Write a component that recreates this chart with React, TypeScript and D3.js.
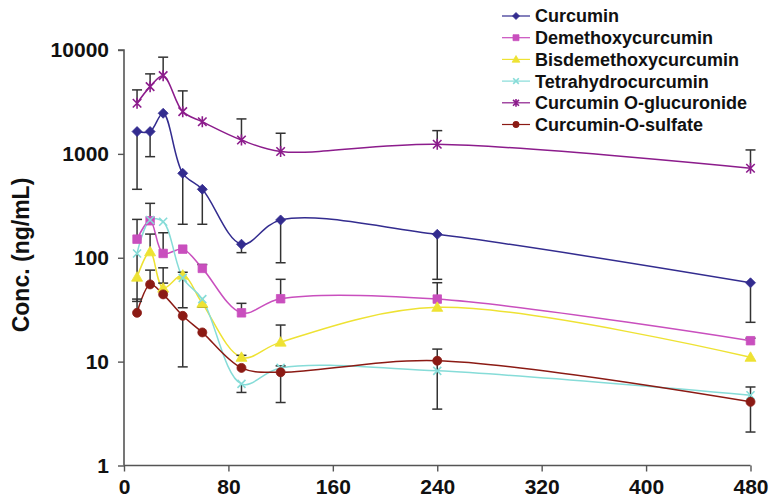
import React, {useEffect, useRef} from 'react';
import * as d3 from 'd3';

// sampling times (min)
const times = [10, 20, 30, 45, 60, 90, 120, 240, 480];

const seriesNames = [
    'Curcumin',
    'Demethoxycurcumin',
    'Bisdemethoxycurcumin',
    'Tetrahydrocurcumin',
    'Curcumin O-glucuronide',
    'Curcumin-O-sulfate',
];
const seriesColors = ['#332c8f', '#c94fbe', '#eee233', '#86dcd8', '#8c1c8c', '#8b1a14'];
const seriesMarkers = ['diamond', 'square', 'triangle', 'x', 'star', 'circle'];

// mean concentrations (ng/mL)
const curcumin = [1640, 1640, 2460, 650, 456, 135, 231, 168, 57.4];
const demethoxy = [151, 227, 110, 121, 79, 29.5, 40.3, 40, 15.9];
const bisdemethoxy = [65, 114, 51, 68, 36.4, 11, 15.4, 33.3, 11];
const tetrahydro = [110, 231, 222, 64, 40, 6.1, 8.7, 8.15, 4.75];
const glucuronide = [3070, 4440, 5660, 2550, 2040, 1360, 1055, 1237, 727];
const sulfate = [29.5, 55.4, 44.4, 27.6, 19.1, 8.7, 7.9, 10.2, 4.1];

// error bar ends (null = no bar drawn on that side)
const curcuminLow = [456, 940, null, 210, 210, 112, 89.5, 62, 23.9];
const demethoxyHigh = [234, 334, 174, null, 86, 36.4, 62, 57.5, 16.8];
const bisdemethoxyHigh = [null, 169, 80, 72.5, null, 11.5, 22.5, null, null];
const bisdemethoxyLow = [null, null, null, null, 33.4, null, null, null, null];
const tetrahydroHigh = [null, null, null, null, null, null, 9.1, null, null];
const tetrahydroLow = [38, null, null, 33, null, 5.05, null, null, null];
const glucuronideHigh = [4130, 5890, 8530, 4040, null, 2170, 1580, 1674, 1091];
const sulfateHigh = [40, 76, 57, null, null, null, null, 13.2, 5.7];
const sulfateLow = [null, null, null, 8.9, null, null, 4.04, 3.49, 2.1];

const none = times.map(() => null);
const seriesValues = [curcumin, demethoxy, bisdemethoxy, tetrahydro, glucuronide, sulfate];
const seriesHigh = [none, demethoxyHigh, bisdemethoxyHigh, tetrahydroHigh, glucuronideHigh, sulfateHigh];
const seriesLow = [curcuminLow, none, bisdemethoxyLow, tetrahydroLow, none, sulfateLow];

const xTicks = [0, 80, 160, 240, 320, 400, 480];
const yTicks = [1, 10, 100, 1000, 10000];

const FONT = '"Liberation Sans", Arial, Helvetica, sans-serif';

const markerPath = (type, s) => {
    switch (type) {
        case 'diamond':
            return `M0,${-s}L${s},0L0,${s}L${-s},0Z`;
        case 'square':
            return `M${-s * 0.85},${-s * 0.85}H${s * 0.85}V${s * 0.85}H${-s * 0.85}Z`;
        case 'triangle':
            return `M0,${-s * 1.1}L${s * 1.1},${s * 0.8}L${-s * 1.1},${s * 0.8}Z`;
        case 'x':
            return `M${-s * 0.8},${-s * 0.8}L${s * 0.8},${s * 0.8}M${-s * 0.8},${s * 0.8}L${s * 0.8},${-s * 0.8}`;
        case 'star':
            return `M${-s * 0.85},${-s * 0.85}L${s * 0.85},${s * 0.85}M${-s * 0.85},${s * 0.85}L${s * 0.85},${-s * 0.85}M0,${-s * 1.1}V${s * 1.1}`;
        default:
            return d3.arc()({innerRadius: 0, outerRadius: s * 0.9, startAngle: 0, endAngle: 2 * Math.PI});
    }
};

const drawMarker = (g, type, color, s) => {
    const stroked = type === 'x' || type === 'star';
    g.append('path')
        .attr('d', markerPath(type, s))
        .attr('fill', stroked ? 'none' : color)
        .attr('stroke', color)
        .attr('stroke-width', stroked ? 1.6 : 0.8);
};

const App = () => {
    const svgRef = useRef(null);
    const W = 775;
    const H = 502;

    useEffect(() => {
        const svg = d3.select(svgRef.current);
        svg.selectAll('*').remove();

        const x = d3.scaleLinear().domain([0, 480]).range([124, 750.5]);
        const y = d3.scaleLog().domain([1, 10000]).range([465.5, 50]);

        // axes
        const yAxis = svg.append('g')
            .attr('transform', 'translate(124,0)')
            .call(d3.axisLeft(y).tickValues(yTicks).tickFormat(d3.format('d')).tickSize(6).tickPadding(9));
        const xAxis = svg.append('g')
            .attr('transform', 'translate(0,465.5)')
            .call(d3.axisBottom(x).tickValues(xTicks).tickSize(6).tickPadding(8));
        [yAxis, xAxis].forEach(a => {
            a.select('.domain').attr('stroke', '#555').attr('stroke-width', 1.6);
            a.selectAll('.tick line').attr('stroke', '#555').attr('stroke-width', 1.4);
            a.selectAll('.tick text')
                .attr('fill', '#111')
                .attr('font-family', FONT)
                .attr('font-weight', 'bold')
                .attr('font-size', 21);
        });
        yAxis.select('.domain').attr('d', `M-6,${y(10000)}H0V${y(1)}`);
        xAxis.select('.domain').attr('d', `M${x(0)},0H${x(480)}`);

        svg.append('text')
            .attr('transform', 'translate(29,255) rotate(-90)')
            .attr('text-anchor', 'middle')
            .attr('font-family', FONT)
            .attr('font-weight', 'bold')
            .attr('font-size', 23)
            .attr('fill', '#111')
            .text('Conc. (ng/mL)');

        const line = d3.line()
            .x(d => x(d[0]))
            .y(d => y(d[1]))
            .curve(d3.curveCatmullRom.alpha(0.5));

        // series lines
        seriesValues.forEach((vals, i) => {
            svg.append('path')
                .attr('d', line(times.map((t, j) => [t, vals[j]])))
                .attr('fill', 'none')
                .attr('stroke', seriesColors[i])
                .attr('stroke-width', 1.5);
        });

        // error bars
        const eb = svg.append('g').attr('stroke', '#333').attr('stroke-width', 1.5);
        seriesValues.forEach((vals, i) => {
            times.forEach((t, j) => {
                [seriesHigh[i][j], seriesLow[i][j]].forEach(end => {
                    if (end == null) return;
                    const cx = x(t);
                    eb.append('line').attr('x1', cx).attr('x2', cx)
                        .attr('y1', y(vals[j])).attr('y2', y(end));
                    eb.append('line').attr('x1', cx - 5).attr('x2', cx + 5)
                        .attr('y1', y(end)).attr('y2', y(end));
                });
            });
        });

        // markers
        seriesValues.forEach((vals, i) => {
            times.forEach((t, j) => {
                const g = svg.append('g').attr('transform', `translate(${x(t)},${y(vals[j])})`);
                drawMarker(g, seriesMarkers[i], seriesColors[i], 5);
            });
        });

        // legend
        const legend = svg.append('g').attr('transform', 'translate(502,16)');
        seriesNames.forEach((name, i) => {
            const row = legend.append('g').attr('transform', `translate(0,${i * 21.7})`);
            row.append('line').attr('x1', 0).attr('x2', 28).attr('y1', 0).attr('y2', 0)
                .attr('stroke', seriesColors[i]).attr('stroke-width', 1.2);
            const m = row.append('g').attr('transform', 'translate(14,0)');
            drawMarker(m, seriesMarkers[i], seriesColors[i], 3.5);
            row.append('text')
                .attr('x', 33)
                .attr('dy', '0.36em')
                .attr('font-family', FONT)
                .attr('font-weight', 'bold')
                .attr('font-size', 18)
                .attr('fill', '#111')
                .text(name);
        });
    }, []);

    return (
        <svg ref={svgRef} width={W} height={H}
             style={{position: 'absolute', left: 0, top: 0, background: '#fff'}}/>
    );
};

export default App;
